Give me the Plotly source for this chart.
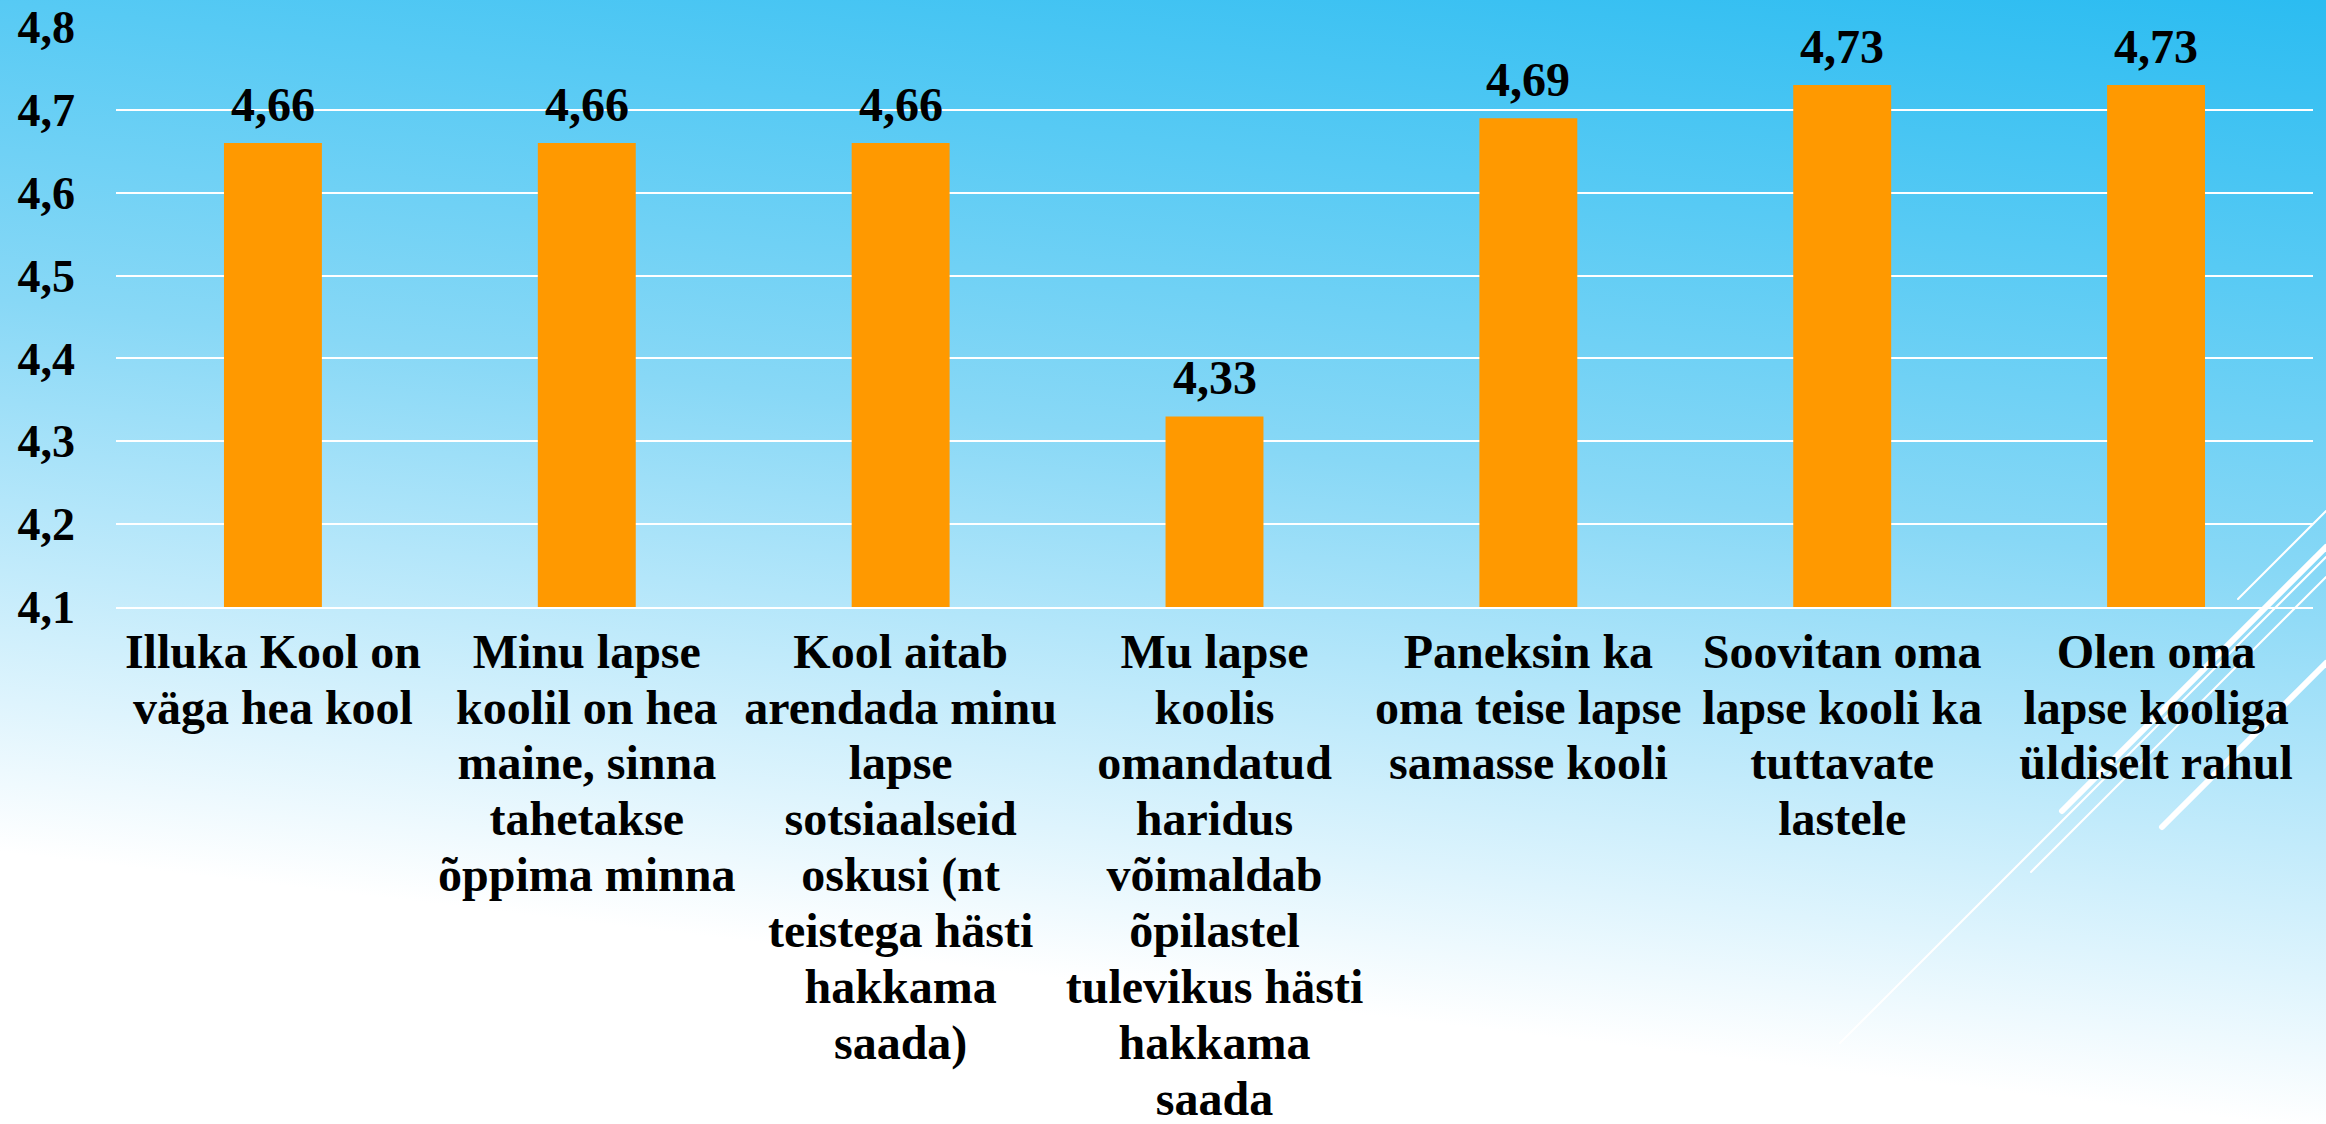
import base64
import plotly.graph_objects as go

# ---- data ----
categories = [
    "Illuka Kool on väga hea kool",
    "Minu lapse koolil on hea maine, sinna tahetakse õppima minna",
    "Kool aitab arendada minu lapse sotsiaalseid oskusi (nt teistega hästi hakkama saada)",
    "Mu lapse koolis omandatud haridus võimaldab õpilastel tulevikus hästi hakkama saada",
    "Paneksin ka oma teise lapse samasse kooli",
    "Soovitan oma lapse kooli ka tuttavate lastele",
    "Olen oma lapse kooliga üldiselt rahul",
]
label_lines = [
    ["Illuka Kool on", "väga hea kool"],
    ["Minu lapse", "koolil on hea", "maine, sinna", "tahetakse", "õppima minna"],
    ["Kool aitab", "arendada minu", "lapse", "sotsiaalseid", "oskusi (nt", "teistega hästi", "hakkama", "saada)"],
    ["Mu lapse", "koolis", "omandatud", "haridus", "võimaldab", "õpilastel", "tulevikus hästi", "hakkama", "saada"],
    ["Paneksin ka", "oma teise lapse", "samasse kooli"],
    ["Soovitan oma", "lapse kooli ka", "tuttavate", "lastele"],
    ["Olen oma", "lapse kooliga", "üldiselt rahul"],
]
values = [4.66, 4.66, 4.66, 4.33, 4.69, 4.73, 4.73]
y_ticks = [4.1, 4.2, 4.3, 4.4, 4.5, 4.6, 4.7, 4.8]

W, H = 2326, 1124
ML, MR, MT, MB = 116, 13, 27, 517
PW, PH = W - ML - MR, H - MT - MB

FONT = "Liberation Serif"

ticktext = [
    "<br>".join(f"<span style='font-size:48px'>{ln}</span>" for ln in lines)
    for lines in label_lines
]

# ---- background (decoration) ----
svg = f"""<svg xmlns='http://www.w3.org/2000/svg' width='{W}' height='{H}' viewBox='0 0 {W} {H}' preserveAspectRatio='none'>
<defs>
<linearGradient id='g' gradientUnits='userSpaceOnUse' x1='2326' y1='0' x2='2187' y2='1163'>
<stop offset='0' stop-color='#2BBCF1'/>
<stop offset='0.237' stop-color='#57CAF4'/>
<stop offset='0.49' stop-color='#88D8F6'/>
<stop offset='0.66' stop-color='#B3E6FA'/>
<stop offset='0.83' stop-color='#DEF4FD'/>
<stop offset='0.958' stop-color='#FFFFFF'/>
<stop offset='1' stop-color='#FFFFFF'/>
</linearGradient>
</defs>
<rect x='0' y='0' width='{W}' height='{H}' fill='url(#g)'/>
<g stroke='#FFFFFF' fill='none' stroke-linecap='round'>
<line x1='2326' y1='511' x2='2238' y2='599' stroke-width='2'/>
<line x1='2326' y1='547' x2='2062' y2='811' stroke-width='6'/>
<line x1='2326' y1='577' x2='2031' y2='872' stroke-width='2'/>
<line x1='2326' y1='557' x2='1840' y2='1043' stroke-width='2'/>
<line x1='2326' y1='663' x2='2162' y2='827' stroke-width='6'/>
</g>
</svg>"""
src = "data:image/svg+xml;base64," + base64.b64encode(svg.encode("utf-8")).decode("ascii")

fig = go.Figure()
fig.add_trace(go.Bar(
    x=categories,
    y=values,
    marker=dict(color="#FF9900", line=dict(width=0)),
    hoverinfo="skip",
))

annotations = [
    dict(
        x=c, y=v, xref="x", yref="y",
        text=f"{v:.2f}".replace(".", ","),
        showarrow=False, yanchor="bottom", xanchor="center",
        yshift=10,
        font=dict(family=FONT, size=48, color="#000000", weight="bold"),
    )
    for c, v in zip(categories, values)
]

fig.update_layout(
    width=W, height=H,
    margin=dict(l=ML, r=MR, t=MT, b=MB, autoexpand=False),
    paper_bgcolor="rgba(0,0,0,0)",
    plot_bgcolor="rgba(0,0,0,0)",
    separators=", ",
    bargap=0.688,
    showlegend=False,
    font=dict(family=FONT, color="#000000"),
    annotations=annotations,
    images=[dict(
        source=src, xref="paper", yref="paper",
        x=-ML / PW, y=1 + MT / PH,
        sizex=W / PW, sizey=H / PH,
        sizing="stretch", xanchor="left", yanchor="top",
        layer="below",
    )],
)
fig.update_xaxes(
    tickmode="array", tickvals=categories, ticktext=ticktext,
    tickangle=0,
    tickfont=dict(family=FONT, size=43, color="#000000", weight="bold"),
    showgrid=False, zeroline=False,
    showline=True, linecolor="#FFFFFF", linewidth=2,
    ticks="", ticklabelstandoff=7,
)
fig.update_yaxes(
    range=[4.1, 4.8],
    tickmode="array", tickvals=y_ticks,
    tickformat=".1f",
    tickfont=dict(family=FONT, size=46, color="#000000", weight="bold"),
    showgrid=True, gridcolor="#FFFFFF", gridwidth=2,
    zeroline=False, showline=False,
    ticks="", ticklabelstandoff=40,
)

fig.write_html(
    "out.html",
    config={"displayModeBar": False},
    post_script="document.body.style.margin='0';document.body.style.overflow='hidden';",
)
